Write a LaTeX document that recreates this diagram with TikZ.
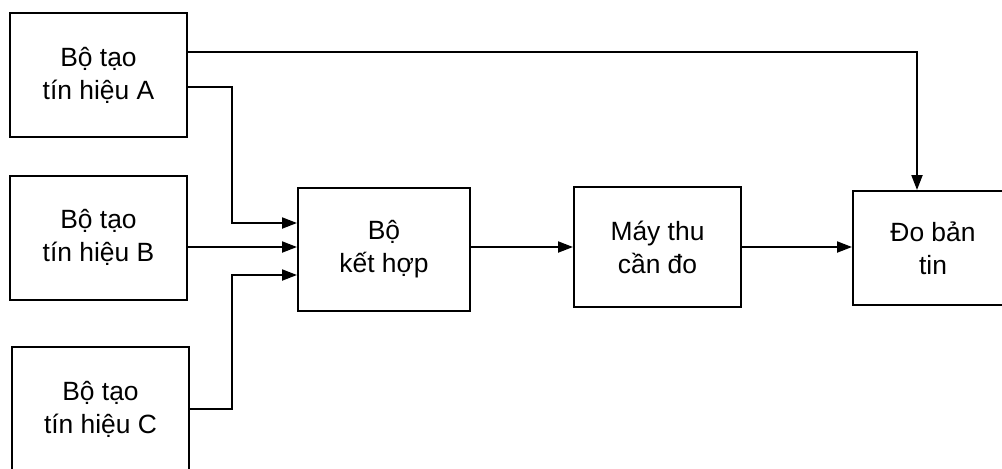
\documentclass[tikz,border=0pt]{standalone}
\usepackage{fontspec}
\setmainfont{Liberation Sans}
\usetikzlibrary{arrows.meta,positioning,calc}

\begin{document}
\begin{tikzpicture}[x=0.5pt,y=-0.5pt,
  blk/.style={draw,line width=1pt,align=center,inner sep=0pt,font=\fontsize{13.2}{16.5}\selectfont},
  arr/.style={line width=1pt,-{Triangle[length=7.5pt,width=5.5pt]}}]
\useasboundingbox (0,0) rectangle (1002,468);
\clip (0,0) rectangle (1002,468);
% ---------- the three generators ----------
\foreach \n/\cx/\cy in {A/98.5/75, B/98.5/237.5, C/100.5/409}{
  \node[blk,minimum width=88.5pt,minimum height=62pt] (gen\n) at (\cx,\cy) {Bộ tạo\\tín hiệu \n};
}
% ---------- processing chain ----------
\node[blk,minimum width=86pt,minimum height=61.5pt] (comb) at (384,249.5) {Bộ\\kết hợp};
\node[blk,minimum width=83.5pt,minimum height=60pt] (rx) at (657.5,247) {Máy thu\\cần đo};
\node[blk,minimum width=80pt,minimum height=57pt] (meas) at (933,248) {Đo bản\\tin};
% bus column and ports
\coordinate (bus) at (232,0);
\coordinate (pA) at ([yshift=13.25pt]comb.west);
\coordinate (pB) at ([yshift=1.25pt]comb.west);
\coordinate (pC) at ([yshift=-12.75pt]comb.west);
% ---------- connectors ----------
\draw[arr] ([yshift=11.5pt]genA.east) -| ([xshift=-8pt]meas.north);
\draw[arr] ([yshift=-6pt]genA.east) -| (bus |- pA) -- (pA);
\draw[arr] ([yshift=-4.75pt]genB.east) -- (pB);
\draw[arr] (genC.east) -| (bus |- pC) -- (pC);
\draw[arr] (comb.east |- rx.west) -- (rx.west);
\draw[arr] (rx.east) -- (rx.east -| meas.west);
\end{tikzpicture}
\end{document}
